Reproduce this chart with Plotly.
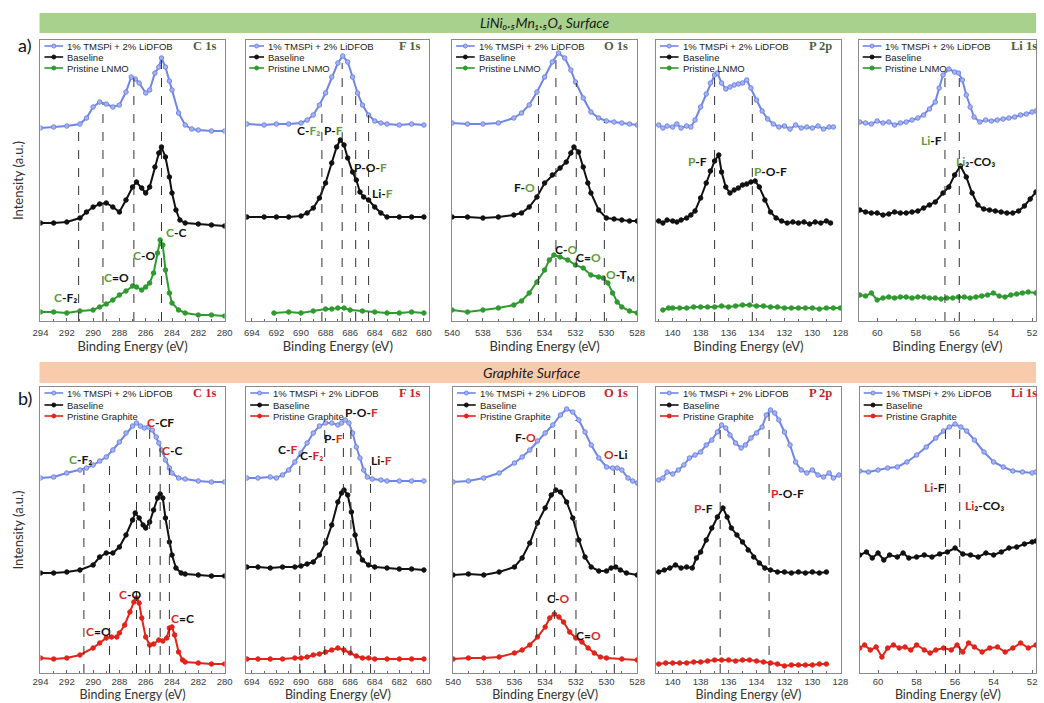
import plotly.graph_objects as go

# ===================== Row a: LiNi0.5Mn1.5O4 surface =====================
# ---- C 1s ----
A_C1S_X_TMSPI = [294, 293, 292, 291, 290.5, 290, 289.5, 289, 288.5, 288, 287.5, 287.1, 286.8, 286.5, 286, 285.7, 285.3, 285, 284.8, 284.5, 284.2, 284, 283.5, 283, 282.5, 282, 281, 280]
A_C1S_Y_TMSPI = [193, 194, 195, 197, 203, 214, 219, 217, 214, 216, 229, 244, 242, 238, 228, 231, 248, 254, 263, 254, 240, 231, 208, 196, 192, 191, 190, 190]
A_C1S_X_BASE = [294, 293, 292, 291, 290.5, 290, 289.5, 289, 288.5, 288, 287.5, 287, 286.7, 286.3, 286, 285.7, 285.3, 285, 284.8, 284.5, 284.2, 284, 283.7, 283.4, 283, 282, 281, 280]
A_C1S_Y_BASE = [98, 98, 99, 103, 109, 114, 117, 118, 114, 109, 121, 134, 139, 133, 128, 134, 154, 168, 174, 164, 144, 128, 111, 101, 98, 97, 96, 95]
A_C1S_X_PRIS = [294, 293, 292, 291, 290, 289.5, 289, 288.5, 288, 287.5, 287, 286.7, 286.3, 286, 285.7, 285.4, 285.1, 284.9, 284.7, 284.5, 284.2, 284, 283.5, 283, 282, 281, 280]
A_C1S_Y_PRIS = [9, 9, 8, 10, 11, 14, 17, 21, 26, 30, 35, 34, 31, 34, 38, 48, 68, 81, 76, 51, 28, 18, 11, 8, 6, 6, 5]
A_C1S_PEAKS = [291.1, 289.25, 286.9, 284.8]
A_C1S_TOPS = [197, 217, 243, 262]
A_C1S_LABELS = ["[C]-F₂", "[C]=O", "[C]-O", "[C]-C"]
A_C1S_LX = [292.1, 288.25, 286.1, 283.7]
A_C1S_LY = [24, 44, 66, 89]

# ---- F 1s ----
A_F1S_X_TMSPI = [694.4, 693, 692, 691, 690, 689.5, 689, 688.5, 688, 687.5, 687, 686.6, 686.2, 685.8, 685.4, 685, 684.5, 684, 683.5, 683, 682, 681, 680]
A_F1S_Y_TMSPI = [197, 196, 197, 197, 198, 201, 206, 216, 228, 244, 258, 265, 259, 244, 228, 216, 206, 200, 198, 197, 196, 197, 196]
A_F1S_X_BASE = [694.4, 693, 692, 691, 690, 689.5, 689, 688.5, 688, 687.5, 687.1, 686.8, 686.5, 686.2, 685.8, 685.5, 685.2, 684.9, 684.5, 684, 683.5, 683, 682, 681, 680]
A_F1S_Y_BASE = [104, 104, 104, 104, 105, 108, 113, 123, 138, 158, 174, 181, 176, 163, 149, 141, 129, 124, 121, 114, 108, 104, 104, 104, 104]
A_F1S_X_PRIS = [692.2, 691, 690, 689, 688, 687.5, 687, 686.5, 686, 685, 684, 683, 682, 681, 680]
A_F1S_Y_PRIS = [8, 9, 8, 10, 12, 12, 13, 13, 11, 10, 9, 8, 8, 9, 8]
A_F1S_PEAKS = [688.3, 686.65, 685.55, 684.5]
A_F1S_TOPS = [211, 258, 226, 206]
A_F1S_LABELS = ["C-[F₂]", "P-[F]", "P-O-[F]", "Li-[F]"]
A_F1S_LX = [689.4, 687.35, 684.34, 683.4]
A_F1S_LY = [191, 191, 154, 128]

# ---- O 1s ----
A_O1S_X_TMSPI = [540, 539, 538, 537, 536, 535.5, 535, 534.5, 534, 533.5, 533.1, 532.7, 532.3, 532, 531.5, 531, 530.5, 530, 529.5, 529, 528.5, 528]
A_O1S_Y_TMSPI = [198, 197, 197, 198, 203, 208, 216, 229, 244, 259, 268, 263, 251, 239, 223, 209, 203, 200, 199, 198, 197, 196]
A_O1S_X_BASE = [540, 539, 538, 537, 536, 535.5, 535, 534.5, 534, 533.5, 533, 532.6, 532.3, 532.1, 531.8, 531.5, 531.2, 531, 530.5, 530, 529.5, 529, 528.5, 528]
A_O1S_Y_BASE = [104, 104, 103, 104, 106, 108, 114, 124, 138, 146, 153, 159, 168, 174, 169, 154, 138, 128, 111, 103, 102, 101, 100, 100]
A_O1S_X_PRIS = [540, 539, 538, 537, 536, 535.5, 535, 534.5, 534, 533.7, 533.4, 533, 532.5, 532, 531.5, 531, 530.5, 530.2, 529.9, 529.6, 529.3, 529, 528.5, 528]
A_O1S_Y_PRIS = [11, 9, 11, 13, 16, 20, 28, 39, 51, 61, 66, 64, 61, 56, 53, 46, 44, 43, 38, 28, 19, 14, 10, 8]
A_O1S_PEAKS = [534.4, 533.27, 531.95, 530.13]
A_O1S_TOPS = [229, 268, 238, 199]
A_O1S_LABELS = ["F-[O]", "C-[O]", "C=[O]", "[O]-T<sub>M</sub>"]
A_O1S_LX = [535.3, 532.6, 531.15, 529.1]
A_O1S_LY = [134, 72, 64, 46]

# ---- P 2p ----
A_P2P_X_TMSPI = [141.0, 140.7, 140.4, 140.0, 139.7, 139.4, 139.0, 138.7, 138.4, 138.0, 137.6, 137.3, 137.0, 136.8, 136.5, 136.2, 135.9, 135.6, 135.3, 135.0, 134.7, 134.4, 134.0, 133.6, 133.2, 132.8, 132.4, 132.0, 131.6, 131.2, 130.8, 130.4, 130.0, 129.6, 129.2, 128.8, 128.5]
A_P2P_Y_TMSPI = [196, 193, 195, 194, 197, 193, 195, 194, 201, 214, 227, 238, 246, 248, 238, 232, 234, 236, 237, 238, 241, 233, 221, 210, 202, 197, 194, 195, 192, 196, 193, 194, 193, 195, 192, 194, 194]
A_P2P_X_BASE = [141.0, 140.7, 140.4, 140.0, 139.7, 139.4, 139.0, 138.7, 138.4, 138.0, 137.6, 137.3, 137.0, 136.7, 136.5, 136.2, 135.9, 135.6, 135.3, 135.0, 134.7, 134.4, 134.1, 133.8, 133.4, 133.0, 132.6, 132.2, 131.8, 131.4, 131.0, 130.6, 130.2, 129.8, 129.4, 129.0, 128.7]
A_P2P_Y_BASE = [100, 98, 101, 100, 99, 101, 103, 106, 110, 123, 138, 150, 160, 166, 149, 134, 128, 131, 133, 136, 137, 139, 140, 134, 121, 109, 103, 100, 98, 99, 98, 99, 97, 99, 98, 100, 98]
A_P2P_X_PRIS = [140.7, 140.3, 140.0, 139.5, 139.0, 138.5, 138.0, 137.5, 137.0, 136.5, 136.0, 135.5, 135.0, 134.5, 134.0, 133.5, 133.0, 132.5, 132.0, 131.5, 131.0, 130.5, 130.0, 129.5, 129.0, 128.5, 128.0]
A_P2P_Y_PRIS = [11, 13, 13, 13, 13, 14, 14, 14, 14, 15, 14, 15, 16, 16, 15, 15, 14, 14, 13, 13, 13, 13, 13, 12, 13, 13, 13]
A_P2P_PEAKS = [137.0, 134.3]
A_P2P_TOPS = [248, 234]
A_P2P_LABELS = ["[P]-F", "[P]-O-F"]
A_P2P_LX = [138.2, 133.0]
A_P2P_LY = [160, 150]

# ---- Li 1s ----
A_LI1S_X_TMSPI = [60.9, 60.6, 60.3, 60.0, 59.7, 59.4, 59.1, 58.8, 58.5, 58.2, 57.9, 57.6, 57.3, 57.0, 56.8, 56.6, 56.3, 56.0, 55.8, 55.6, 55.4, 55.2, 55.0, 54.7, 54.4, 54.1, 53.8, 53.5, 53.2, 52.9, 52.6, 52.3, 52.0, 51.8]
A_LI1S_Y_TMSPI = [199, 198, 197, 200, 198, 199, 196, 198, 199, 201, 203, 206, 212, 219, 233, 246, 252, 249, 248, 241, 226, 214, 204, 199, 201, 200, 201, 202, 203, 204, 206, 207, 209, 210]
A_LI1S_X_BASE = [60.9, 60.6, 60.3, 60.0, 59.7, 59.4, 59.1, 58.8, 58.5, 58.2, 57.9, 57.6, 57.3, 57.0, 56.6, 56.3, 56.0, 55.7, 55.4, 55.1, 54.8, 54.5, 54.2, 53.9, 53.6, 53.3, 53.0, 52.7, 52.4, 52.1, 51.8]
A_LI1S_Y_BASE = [111, 109, 108, 108, 106, 107, 109, 108, 108, 109, 110, 113, 116, 119, 128, 134, 146, 155, 144, 128, 116, 112, 111, 110, 109, 108, 108, 110, 115, 122, 129]
A_LI1S_X_PRIS = [60.9, 60.6, 60.3, 60.0, 59.7, 59.4, 59.1, 58.8, 58.5, 58.2, 57.9, 57.6, 57.3, 57.0, 56.7, 56.4, 56.1, 55.8, 55.5, 55.2, 54.9, 54.6, 54.3, 54.0, 53.7, 53.4, 53.1, 52.8, 52.5, 52.2, 51.8]
A_LI1S_Y_PRIS = [26, 25, 28, 21, 23, 24, 23, 24, 24, 23, 24, 24, 23, 23, 22, 23, 23, 24, 24, 23, 24, 25, 26, 28, 25, 24, 26, 27, 28, 29, 28]
A_LI1S_PEAKS = [56.5, 55.76]
A_LI1S_TOPS = [246, 244]
A_LI1S_LABELS = ["[Li]-F", "[Li]₂-CO₃"]
A_LI1S_LX = [57.2, 54.9]
A_LI1S_LY = [181, 160]

# ===================== Row b: graphite surface =====================
# ---- C 1s ----
B_C1S_X_TMSPI = [294, 293, 292, 291, 290.5, 290, 289.5, 289, 288.5, 288, 287.5, 287, 286.7, 286.4, 286.1, 285.8, 285.5, 285.2, 285, 284.8, 284.5, 284.2, 284, 283.5, 283, 282, 281, 280]
B_C1S_Y_TMSPI = [195, 196, 200, 203, 205, 208, 212, 216, 223, 231, 240, 247, 250, 247, 245, 246, 243, 236, 230, 223, 213, 205, 200, 195, 194, 192, 191, 191]
B_C1S_X_BASE = [294, 293, 292, 291, 290, 289.5, 289, 288.5, 288, 287.5, 287, 286.8, 286.5, 286.2, 286, 285.7, 285.4, 285.1, 284.9, 284.7, 284.5, 284.2, 284, 283.7, 283.3, 283, 282, 281, 280]
B_C1S_Y_BASE = [100, 100, 101, 103, 108, 116, 120, 120, 126, 138, 153, 160, 155, 148, 145, 151, 163, 175, 179, 175, 155, 131, 118, 105, 100, 99, 98, 97, 97]
B_C1S_X_PRIS = [294, 293, 292, 291, 290, 289.5, 289, 288.6, 288.2, 288, 287.6, 287.2, 286.9, 286.7, 286.5, 286.3, 286, 285.7, 285.4, 285, 284.7, 284.4, 284.2, 284, 283.8, 283.5, 283.2, 283, 282, 281, 280]
B_C1S_Y_PRIS = [15, 14, 15, 18, 25, 30, 35, 36, 36, 40, 48, 61, 71, 75, 70, 55, 36, 28, 29, 33, 32, 35, 45, 46, 38, 21, 13, 11, 10, 9, 9]
B_C1S_PEAKS = [290.7, 288.75, 286.7, 285.7, 284.9, 284.2]
B_C1S_TOPS = [203, 216, 250, 246, 225, 205]
B_C1S_LABELS = ["{C}-F₂", "[C]-CF", "[C]-C", "[C]=O", "[C]-O", "[C]=C"]
B_C1S_LX = [290.95, 284.9, 284.0, 289.6, 287.2, 283.2]
B_C1S_LY = [214, 251, 223, 42, 79, 55]

# ---- F 1s ----
B_F1S_X_TMSPI = [694.4, 693.5, 692.5, 692, 691.5, 691, 690.5, 690, 689.5, 689, 688.5, 688, 687.5, 687, 686.7, 686.4, 686.1, 685.8, 685.5, 685.2, 684.9, 684.6, 684.2, 683.5, 683, 682, 681, 680]
B_F1S_Y_TMSPI = [195, 195, 196, 195, 198, 203, 211, 220, 230, 240, 247, 250, 250, 248, 250, 253, 250, 240, 226, 215, 203, 196, 194, 193, 192, 192, 192, 192]
B_F1S_X_BASE = [694.4, 693.5, 692.5, 691.5, 690.5, 690, 689.5, 689, 688.5, 688, 687.5, 687, 686.7, 686.5, 686.2, 685.9, 685.6, 685.3, 685, 684.5, 684, 683, 682, 681, 680]
B_F1S_Y_BASE = [106, 106, 105, 106, 106, 107, 109, 111, 118, 130, 148, 171, 180, 183, 178, 161, 138, 121, 113, 108, 106, 105, 104, 104, 103]
B_F1S_X_PRIS = [694.4, 693.5, 692.5, 691.5, 690.5, 690, 689.5, 689, 688.5, 688, 687.5, 687, 686.5, 686, 685.5, 685, 684.5, 684, 683, 682, 681, 680]
B_F1S_Y_PRIS = [14, 14, 14, 14, 15, 15, 16, 18, 19, 21, 23, 25, 23, 20, 17, 15, 15, 14, 14, 14, 14, 14]
B_F1S_PEAKS = [690.1, 688.07, 686.55, 685.94, 684.34]
B_F1S_TOPS = [218, 248, 240, 251, 211]
B_F1S_LABELS = ["C-[F]", "C-[F₂]", "P-[F]", "P-O-[F]", "Li-[F]"]
B_F1S_LX = [691.13, 689.13, 687.35, 685.08, 683.46]
B_F1S_LY = [224, 218, 235, 261, 213]

# ---- O 1s ----
B_O1S_X_TMSPI = [540, 539, 538, 537, 536, 535.5, 535, 534.5, 534, 533.5, 533, 532.6, 532.2, 531.8, 531.4, 531, 530.5, 530, 529.6, 529.3, 529, 528.6, 528.3, 528]
B_O1S_Y_TMSPI = [191, 192, 195, 200, 210, 216, 223, 232, 240, 248, 258, 264, 261, 253, 241, 228, 215, 206, 205, 205, 203, 195, 192, 190]
B_O1S_X_BASE = [540, 539, 538, 537, 536, 535.5, 535, 534.5, 534, 533.6, 533.3, 533, 532.6, 532.2, 531.8, 531.4, 531, 530.5, 530, 529.7, 529.4, 529.1, 528.7, 528]
B_O1S_Y_BASE = [98, 99, 98, 101, 106, 115, 130, 150, 165, 178, 183, 181, 171, 155, 133, 116, 106, 102, 102, 105, 106, 103, 100, 98]
B_O1S_X_PRIS = [540, 539, 538, 537, 536, 535.5, 535, 534.5, 534, 533.7, 533.4, 533.1, 532.8, 532.4, 532, 531.6, 531.2, 530.8, 530.4, 530, 529, 528]
B_O1S_Y_PRIS = [14, 15, 15, 16, 20, 23, 28, 36, 46, 55, 59, 56, 51, 41, 35, 31, 25, 20, 16, 15, 14, 13]
B_O1S_PEAKS = [534.55, 533.38, 531.99, 529.49]
B_O1S_TOPS = [232, 251, 253, 203]
B_O1S_LABELS = ["F-[O]", "[O]-Li", "C-[O]", "C=[O]"]
B_O1S_LX = [535.3, 529.4, 533.16, 531.2]
B_O1S_LY = [236, 219, 75, 38]

# ---- P 2p ----
B_P2P_X_TMSPI = [141.0, 140.7, 140.4, 140.0, 139.6, 139.2, 138.8, 138.4, 138.0, 137.6, 137.2, 136.8, 136.5, 136.2, 135.9, 135.5, 135.1, 134.8, 134.4, 134.0, 133.6, 133.3, 133.0, 132.7, 132.4, 132.0, 131.6, 131.2, 130.8, 130.4, 130.0, 129.6, 129.2, 128.8, 128.5, 128.1]
B_P2P_Y_TMSPI = [193, 195, 201, 199, 203, 208, 215, 218, 221, 228, 233, 241, 248, 245, 238, 230, 225, 228, 235, 240, 246, 258, 263, 260, 253, 241, 228, 211, 203, 200, 203, 198, 196, 200, 195, 198]
B_P2P_X_BASE = [141.0, 140.6, 140.2, 139.8, 139.4, 139.0, 138.6, 138.3, 138.0, 137.6, 137.2, 136.8, 136.4, 136.1, 135.8, 135.4, 135.0, 134.6, 134.2, 133.8, 133.4, 133.0, 132.5, 132.0, 131.5, 131.0, 130.5, 130.0, 129.5, 129.0]
B_P2P_Y_BASE = [101, 103, 105, 108, 105, 106, 105, 115, 121, 133, 145, 156, 165, 156, 145, 138, 131, 123, 116, 110, 105, 103, 101, 101, 100, 101, 100, 101, 100, 101]
B_P2P_X_PRIS = [141.0, 140.5, 140.0, 139.5, 139.0, 138.5, 138.0, 137.5, 137.0, 136.5, 136.0, 135.5, 135.0, 134.5, 134.0, 133.5, 133.0, 132.5, 132.0, 131.5, 131.0, 130.5, 130.0, 129.5, 129.0]
B_P2P_Y_PRIS = [9, 10, 10, 10, 10, 11, 11, 12, 13, 13, 13, 12, 13, 13, 12, 11, 10, 9, 7, 8, 8, 8, 8, 9, 9]
B_P2P_PEAKS = [136.6, 133.1]
B_P2P_TOPS = [245, 260]
B_P2P_LABELS = ["[P]-F", "[P]-O-F"]
B_P2P_LX = [137.8, 131.8]
B_P2P_LY = [165, 180]

# ---- Li 1s ----
B_LI1S_X_TMSPI = [60.95, 60.5, 60.0, 59.5, 59.0, 58.5, 58.0, 57.5, 57.0, 56.6, 56.3, 56.0, 55.7, 55.4, 55.0, 54.5, 54.0, 53.5, 53.0, 52.5, 52.0, 51.8]
B_LI1S_Y_TMSPI = [202, 201, 203, 205, 206, 211, 218, 226, 235, 242, 246, 249, 246, 242, 233, 221, 211, 206, 202, 201, 200, 201]
B_LI1S_X_BASE = [60.95, 60.6, 60.3, 60.0, 59.7, 59.4, 59.0, 58.7, 58.4, 58.0, 57.6, 57.2, 56.8, 56.4, 56.0, 55.6, 55.2, 54.8, 54.4, 54.0, 53.6, 53.2, 52.8, 52.4, 52.0, 51.8]
B_LI1S_Y_BASE = [118, 121, 115, 120, 113, 118, 116, 120, 115, 116, 118, 116, 119, 121, 125, 119, 118, 116, 120, 118, 121, 125, 126, 129, 131, 132]
B_LI1S_X_PRIS = [60.95, 60.7, 60.4, 60.1, 59.8, 59.5, 59.2, 58.9, 58.6, 58.3, 58.0, 57.6, 57.3, 57.0, 56.6, 56.2, 55.9, 55.6, 55.3, 55.0, 54.6, 54.2, 53.8, 53.4, 53.0, 52.6, 52.2, 51.8]
B_LI1S_Y_PRIS = [25, 28, 23, 26, 16, 25, 28, 25, 26, 23, 28, 23, 20, 23, 25, 23, 28, 21, 30, 26, 21, 25, 26, 21, 25, 30, 25, 28]
B_LI1S_PEAKS = [56.5, 55.76]
B_LI1S_TOPS = [246, 250]
B_LI1S_LABELS = ["[Li]-F", "[Li]₂-CO₃"]
B_LI1S_LX = [57.05, 54.46]
B_LI1S_LY = [186, 168]

# ---- shared text ----
SERIES_NAMES_A = ["1% TMSPi + 2% LiDFOB", "Baseline", "Pristine LNMO"]
SERIES_NAMES_B = ["1% TMSPi + 2% LiDFOB", "Baseline", "Pristine Graphite"]
CORE_LEVELS = ["C 1s", "F 1s", "O 1s", "P 2p", "Li 1s"]
RANGES = [[294, 280], [694.45, 679.55], [540, 528], [141.2, 127.95], [60.95, 51.8]]
BANNER_A = "LiNi₀.₅Mn₁.₅O₄ Surface"
BANNER_B = "Graphite Surface"

# ===================== layout geometry (pixels) =====================
W, H = 1044, 703
ROW_TB = [(40, 321), (387, 673)]
YMAX = [281, 286]
COL_LR = [
    [(33, 220), (242, 428), (451, 639), (658, 846), (864, 1044)],
    [(33, 220), (242, 428), (452, 639), (658, 846), (865, 1044)],
]
HIGHLIGHT = ["#5f9a3c", "#d42a24"]
GREEN_HL = "#5f9a3c"
CORE_COLOR = ["#4f5f3e", "#c0262b"]
SERIES_STYLE_A = [("#7086e6", "#a7b4f3"), ("#111111", "#111111"), ("#2f9a2f", "#2f9a2f")]
SERIES_STYLE_B = [("#7086e6", "#a7b4f3"), ("#111111", "#111111"), ("#e2231a", "#e2231a")]

rows_data = [
    [
        ([A_C1S_X_TMSPI, A_C1S_X_BASE, A_C1S_X_PRIS], [A_C1S_Y_TMSPI, A_C1S_Y_BASE, A_C1S_Y_PRIS], A_C1S_PEAKS, A_C1S_TOPS, A_C1S_LABELS, A_C1S_LX, A_C1S_LY),
        ([A_F1S_X_TMSPI, A_F1S_X_BASE, A_F1S_X_PRIS], [A_F1S_Y_TMSPI, A_F1S_Y_BASE, A_F1S_Y_PRIS], A_F1S_PEAKS, A_F1S_TOPS, A_F1S_LABELS, A_F1S_LX, A_F1S_LY),
        ([A_O1S_X_TMSPI, A_O1S_X_BASE, A_O1S_X_PRIS], [A_O1S_Y_TMSPI, A_O1S_Y_BASE, A_O1S_Y_PRIS], A_O1S_PEAKS, A_O1S_TOPS, A_O1S_LABELS, A_O1S_LX, A_O1S_LY),
        ([A_P2P_X_TMSPI, A_P2P_X_BASE, A_P2P_X_PRIS], [A_P2P_Y_TMSPI, A_P2P_Y_BASE, A_P2P_Y_PRIS], A_P2P_PEAKS, A_P2P_TOPS, A_P2P_LABELS, A_P2P_LX, A_P2P_LY),
        ([A_LI1S_X_TMSPI, A_LI1S_X_BASE, A_LI1S_X_PRIS], [A_LI1S_Y_TMSPI, A_LI1S_Y_BASE, A_LI1S_Y_PRIS], A_LI1S_PEAKS, A_LI1S_TOPS, A_LI1S_LABELS, A_LI1S_LX, A_LI1S_LY),
    ],
    [
        ([B_C1S_X_TMSPI, B_C1S_X_BASE, B_C1S_X_PRIS], [B_C1S_Y_TMSPI, B_C1S_Y_BASE, B_C1S_Y_PRIS], B_C1S_PEAKS, B_C1S_TOPS, B_C1S_LABELS, B_C1S_LX, B_C1S_LY),
        ([B_F1S_X_TMSPI, B_F1S_X_BASE, B_F1S_X_PRIS], [B_F1S_Y_TMSPI, B_F1S_Y_BASE, B_F1S_Y_PRIS], B_F1S_PEAKS, B_F1S_TOPS, B_F1S_LABELS, B_F1S_LX, B_F1S_LY),
        ([B_O1S_X_TMSPI, B_O1S_X_BASE, B_O1S_X_PRIS], [B_O1S_Y_TMSPI, B_O1S_Y_BASE, B_O1S_Y_PRIS], B_O1S_PEAKS, B_O1S_TOPS, B_O1S_LABELS, B_O1S_LX, B_O1S_LY),
        ([B_P2P_X_TMSPI, B_P2P_X_BASE, B_P2P_X_PRIS], [B_P2P_Y_TMSPI, B_P2P_Y_BASE, B_P2P_Y_PRIS], B_P2P_PEAKS, B_P2P_TOPS, B_P2P_LABELS, B_P2P_LX, B_P2P_LY),
        ([B_LI1S_X_TMSPI, B_LI1S_X_BASE, B_LI1S_X_PRIS], [B_LI1S_Y_TMSPI, B_LI1S_Y_BASE, B_LI1S_Y_PRIS], B_LI1S_PEAKS, B_LI1S_TOPS, B_LI1S_LABELS, B_LI1S_LX, B_LI1S_LY),
    ],
]


def markup(label, hl):
    out = label.replace("[", '<span style="color:%s">' % hl).replace("]", "</span>")
    out = out.replace("{", '<span style="color:%s">' % GREEN_HL).replace("}", "</span>")
    return out


fig = go.Figure()
shapes = []
annotations = []
layout_axes = {}

TICKFONT = dict(family="Liberation Sans, Arial", size=9.5, color="#3a3a3a")

for r in range(2):
    top, bot = ROW_TB[r]
    names = SERIES_NAMES_A if r == 0 else SERIES_NAMES_B
    styles = SERIES_STYLE_A if r == 0 else SERIES_STYLE_B
    xtitle_font = dict(family="Lato, Calibri, sans-serif", size=13 if r == 0 else 12.5, color="#333333")
    for c in range(5):
        i = r * 5 + c + 1
        xs, ys, peaks, tops, labels, lx, ly = rows_data[r][c]
        L, R = COL_LR[r][c]
        xname = "x" if i == 1 else "x%d" % i
        yname = "y" if i == 1 else "y%d" % i
        xkey = "xaxis" if i == 1 else "xaxis%d" % i
        ykey = "yaxis" if i == 1 else "yaxis%d" % i
        wpx, hpx = R - L, bot - top

        layout_axes[xkey] = dict(
            domain=[L / W, R / W], range=RANGES[c], anchor=yname,
            showline=True, mirror=True, linecolor="#8a8a8a", linewidth=1,
            ticks="inside", ticklen=3, tickcolor="#666", dtick=2, tick0=0,
            tickfont=TICKFONT, ticklabelstandoff=3 if r == 0 else 0,
            showgrid=False, zeroline=False,
            minor=dict(dtick=1, ticks="inside", ticklen=2, tickcolor="#666"),
            title=dict(text="Binding Energy (eV)", font=xtitle_font, standoff=3 if r == 0 else 3),
        )
        layout_axes[ykey] = dict(
            domain=[1 - bot / H, 1 - top / H], range=[0, YMAX[r]], anchor=xname,
            showline=True, mirror=True, linecolor="#8a8a8a", linewidth=1,
            showticklabels=False, ticks="", showgrid=False, zeroline=False,
        )
        if c == 0:
            layout_axes[ykey]["title"] = dict(text="Intensity (a.u.)",
                                              font=dict(family="Lato, Calibri, sans-serif", size=13, color="#333333"),
                                              standoff=12)

        for s in range(3):
            lc, mc = styles[s]
            fig.add_trace(go.Scatter(
                x=xs[s], y=ys[s], mode="lines+markers", name=names[s],
                xaxis=xname, yaxis=yname, showlegend=False,
                line=dict(color=lc, width=2),
                marker=dict(size=4.5, color=mc, line=dict(color=lc, width=1)),
            ))

        # reference (peak) lines
        for p, t in zip(peaks, tops):
            shapes.append(dict(type="line", xref=xname, yref=yname, x0=p, x1=p, y0=0, y1=t,
                               line=dict(color="#333333", width=1, dash="dash")))

        # peak labels
        for lab, x, y in zip(labels, lx, ly):
            annotations.append(dict(xref=xname, yref=yname, x=x, y=y, text=markup(lab, HIGHLIGHT[r]),
                                    showarrow=False, xanchor="center", yanchor="middle",
                                    font=dict(family="Lato, Calibri, sans-serif", size=12, color="#111111",
                                              weight="bold")))

        # compact legend drawn like the original
        xd = xname + " domain"
        yd = yname + " domain"
        offs = [6, 17, 28] if r == 0 else [6, 18, 29]
        lx0, lx1, tx = (3, 18, 20) if (r == 0 and c == 1) else (4, 23, 25)
        for s in range(3):
            lc, mc = styles[s]
            yy = 1 - offs[s] / hpx
            shapes.append(dict(type="line", xref=xd, yref=yd, x0=lx0 / wpx, x1=lx1 / wpx, y0=yy, y1=yy,
                               line=dict(color=lc, width=1.6)))
            shapes.append(dict(type="circle", xref=xd, yref=yd, xsizemode="pixel", ysizemode="pixel",
                               xanchor=(lx0 + lx1) / 2 / wpx, yanchor=yy, x0=-2, x1=2, y0=-2, y1=2,
                               fillcolor=mc, line=dict(color=lc, width=1)))
            annotations.append(dict(xref=xd, yref=yd, x=tx / wpx, y=yy, text=names[s], showarrow=False,
                                    xanchor="left", yanchor="middle",
                                    font=dict(family="Liberation Sans, Arial", size=9.5, color="#222222")))

        # core level title
        if c == 4:
            annotations.append(dict(xref=xd, yref=yd, x=(1017 - L) / wpx, y=1 - 6 / hpx, text="<b>%s</b>" % CORE_LEVELS[c],
                                    showarrow=False, xanchor="left", yanchor="middle",
                                    font=dict(family="Liberation Serif, Times New Roman", size=12.5, color=CORE_COLOR[r])))
        else:
            annotations.append(dict(xref=xd, yref=yd, x=1 - 7 / wpx, y=1 - 6 / hpx, text="<b>%s</b>" % CORE_LEVELS[c],
                                    showarrow=False, xanchor="right", yanchor="middle",
                                    font=dict(family="Liberation Serif, Times New Roman", size=12.5, color=CORE_COLOR[r])))

# banners
shapes.append(dict(type="rect", xref="paper", yref="paper", x0=32 / W, x1=1, y0=1 - 33 / H, y1=1 - 13 / H,
                   fillcolor="#a9d18e", line=dict(width=0), layer="below"))
shapes.append(dict(type="rect", xref="paper", yref="paper", x0=32 / W, x1=1, y0=1 - 383 / H, y1=1 - 362 / H,
                   fillcolor="#f8cbad", line=dict(width=0), layer="below"))
annotations.append(dict(xref="paper", yref="paper", x=545 / W, y=1 - 23 / H, text="<i>%s</i>" % BANNER_A,
                        showarrow=False, xanchor="center", yanchor="middle",
                        font=dict(family="Lato, Calibri, sans-serif", size=14, color="#1a1a1a")))
annotations.append(dict(xref="paper", yref="paper", x=532 / W, y=1 - 372 / H, text="<i>%s</i>" % BANNER_B,
                        showarrow=False, xanchor="center", yanchor="middle",
                        font=dict(family="Lato, Calibri, sans-serif", size=14, color="#1a1a1a")))
annotations.append(dict(xref="paper", yref="paper", x=17 / W, y=1 - 45 / H, text="a)", showarrow=False,
                        xanchor="center", yanchor="middle",
                        font=dict(family="Lato, Calibri, sans-serif", size=18, color="#111")))
annotations.append(dict(xref="paper", yref="paper", x=17 / W, y=1 - 398 / H, text="b)", showarrow=False,
                        xanchor="center", yanchor="middle",
                        font=dict(family="Lato, Calibri, sans-serif", size=18, color="#111")))

fig.update_layout(
    width=W, height=H, margin=dict(l=0, r=0, t=0, b=0),
    paper_bgcolor="white", plot_bgcolor="white", showlegend=False,
    shapes=shapes, annotations=annotations, **layout_axes,
)

fig.write_html("out.html")
